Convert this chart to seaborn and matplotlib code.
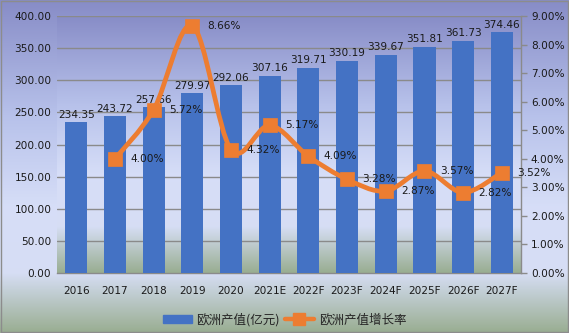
import numpy as np
import pandas as pd
import matplotlib
matplotlib.use("Agg")
import matplotlib.pyplot as plt
import seaborn as sns
from matplotlib.colors import LinearSegmentedColormap
from matplotlib.path import Path
from matplotlib.patches import PathPatch, Rectangle, Patch
from matplotlib.lines import Line2D

years = ["2016", "2017", "2018", "2019", "2020", "2021E", "2022F", "2023F",
         "2024F", "2025F", "2026F", "2027F"]
output_value = [234.35, 243.72, 257.66, 279.97, 292.06, 307.16, 319.71, 330.19,
                339.67, 351.81, 361.73, 374.46]
growth_rate = [None, 4.00, 5.72, 8.66, 4.32, 5.17, 4.09, 3.28, 2.87, 3.57, 2.82, 3.52]
bar_label = "欧洲产值(亿元)"
line_label = "欧洲产值增长率"

sns.set_theme(style="white")
plt.rcParams['font.family'] = ['DejaVu Sans', 'Noto Sans CJK SC']

BAR = "#4472C4"
ORANGE = "#ED7D31"
TXT = "#1a1a1a"
GRID = "#8a8a8a"

grad = LinearSegmentedColormap.from_list("bg", [
    (0.0, (0.53, 0.55, 0.78)),
    (0.35, (0.72, 0.76, 0.92)),
    (0.62, (0.84, 0.87, 0.97)),
    (0.82, (0.84, 0.87, 0.96)),
    (1.0, (0.60, 0.68, 0.57)),
])
gimg = np.linspace(0, 1, 256).reshape(-1, 1)

fig = plt.figure(figsize=(5.69, 3.33), dpi=100)
bg = fig.add_axes([0, 0, 1, 1], zorder=-10)
bg.imshow(gimg, cmap=grad, aspect="auto", extent=[0, 1, 0, 1], origin="upper")
bg.axis("off")
fig.patches.append(Rectangle((0.001, 0.002), 0.997, 0.995, transform=fig.transFigure,
                             fill=False, edgecolor="#8c8c8c", linewidth=1.0, zorder=5))

ax = fig.add_axes([0.100, 0.180, 0.816, 0.772])
ax.patch.set_visible(False)
ax.imshow(gimg, cmap=grad, aspect="auto", extent=[0, 1, 0, 1], origin="upper",
          transform=ax.transAxes, zorder=0)

df = pd.DataFrame({"year": years, "value": output_value, "rate": growth_rate})
sns.barplot(data=df, x="year", y="value", color=BAR, width=0.57, saturation=1,
            linewidth=0, edgecolor=BAR, ax=ax)
for p in ax.patches:
    p.set_zorder(3)
    p.set_linewidth(0)
ax.set_xlim(-0.5, len(years) - 0.5)
ax.set_ylim(0, 400)
ax.set_yticks(np.arange(0, 401, 50))
ax.set_yticklabels([f"{v:.2f}" for v in np.arange(0, 401, 50)], fontsize=7.6, color=TXT)
ax.set_xticks(range(len(years)))
ax.set_xticklabels(years, fontsize=7.6, color=TXT)
ax.set_xlabel("")
ax.set_ylabel("")
for v in np.arange(50, 401, 50):
    ax.axhline(v, color=GRID, linewidth=1.0, zorder=1)
ax.spines["top"].set_visible(False)
ax.spines["left"].set_visible(False)
for s in ["right", "bottom"]:
    ax.spines[s].set_color(GRID)
    ax.spines[s].set_linewidth(1.0)
ax.tick_params(axis="both", length=0, pad=4)
ax.tick_params(axis="x", pad=9)
for i, v in enumerate(output_value):
    ax.text(i, v + 4, f"{v:.2f}", ha="center", va="bottom", fontsize=7.6, color=TXT, zorder=6)

ax2 = ax.twinx()
ax2.set_ylim(0, 9)
ax2.set_yticks(np.arange(0, 10, 1))
ax2.set_yticklabels([f"{v:.2f}%" for v in np.arange(0, 10, 1)], fontsize=7.6, color=TXT)
ax2.tick_params(axis="y", length=4, color=GRID, width=1.0, pad=3)
for s in ax2.spines.values():
    s.set_visible(False)
ax2.grid(False)

ldf = df.dropna(subset=["rate"]).reset_index(drop=True)
xs = np.array([years.index(y) for y in ldf["year"]], dtype=float)
ys = ldf["rate"].to_numpy(dtype=float)
# Excel-style smoothed connector (cubic Bezier through the data points)
verts = [(xs[0], ys[0])]
codes = [Path.MOVETO]
n = len(xs)
for i in range(n - 1):
    p0 = np.array([xs[max(i - 1, 0)], ys[max(i - 1, 0)]])
    p1 = np.array([xs[i], ys[i]])
    p2 = np.array([xs[i + 1], ys[i + 1]])
    p3 = np.array([xs[min(i + 2, n - 1)], ys[min(i + 2, n - 1)]])
    c1 = p1 + (p2 - p0) / 6.0
    c2 = p2 - (p3 - p1) / 6.0
    verts += [tuple(c1), tuple(c2), tuple(p2)]
    codes += [Path.CURVE4] * 3
ax2.add_patch(PathPatch(Path(verts, codes), fill=False, edgecolor=ORANGE,
                        linewidth=3.4, zorder=4, capstyle="round", joinstyle="round"))
sns.scatterplot(x=xs, y=ys, marker="s", s=100, color=ORANGE, edgecolor=ORANGE,
                linewidth=0.5, ax=ax2, zorder=5, legend=False)
for x, y in zip(xs, ys):
    ax2.annotate(f"{y:.2f}%", (x, y), xytext=(11, 0), textcoords="offset points",
                 ha="left", va="center", fontsize=7.6, color=TXT, zorder=6)

handles = [Patch(facecolor=BAR, edgecolor=BAR),
           Line2D([0], [0], color=ORANGE, lw=3.2, marker="s", markersize=9)]
fig.legend(handles, [bar_label, line_label], loc="center", bbox_to_anchor=(0.50, 0.04),
           ncol=2, frameon=False, prop={"family": ["Noto Sans CJK SC"], "size": 9},
           handlelength=2.3, handletextpad=0.4, columnspacing=0.4, handleheight=0.5)

fig.savefig("out.png", dpi=100)
